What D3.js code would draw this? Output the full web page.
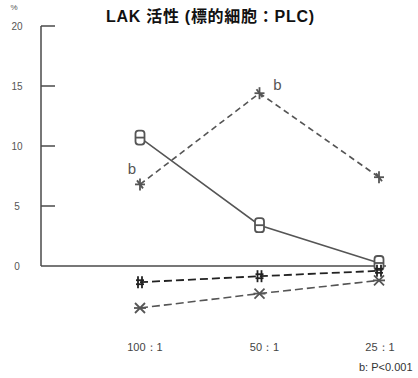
<!DOCTYPE html>
<html><head><meta charset="utf-8">
<script src="https://cdn.jsdelivr.net/npm/d3@7"></script>
<style>body{margin:0;background:#fff}svg{display:block}</style>
</head><body>
<svg id="c" width="418" height="378"></svg>
<script>
const categories = ["100：1", "50：1", "25：1"];
const yTicks = [0, 5, 10, 15, 20];
const seriesSquare = [10.7, 3.4, 0.25];
const seriesStar = [6.8, 14.4, 7.4];
const seriesDark = [-1.35, -0.85, -0.4];
const seriesCross = [-3.5, -2.3, -1.2];
const title = "LAK 活性 (標的細胞：PLC)";

const svg = d3.select("#c");
const x = d3.scalePoint().domain(categories).range([140, 379]);
const y = d3.scaleLinear().domain([0, 20]).range([266, 26]);
const ink = "#4a4a4a";

// axes
svg.append("line").attr("x1", 41).attr("x2", 41).attr("y1", y(20)).attr("y2", y(0)).attr("stroke", ink).attr("stroke-width", 1.5);
svg.append("line").attr("x1", 41).attr("x2", 386).attr("y1", y(0)).attr("y2", y(0)).attr("stroke", ink).attr("stroke-width", 1.5);
svg.selectAll(".yt").data(yTicks.filter(d => d > 0)).join("line")
  .attr("x1", 41).attr("x2", 55).attr("y1", d => y(d)).attr("y2", d => y(d)).attr("stroke", ink).attr("stroke-width", 1.5);
svg.selectAll(".yl").data(yTicks).join("text")
  .attr("x", 17).attr("y", d => y(d) + 3.5).attr("text-anchor", "middle")
  .attr("font-family", "Liberation Sans Narrow, Liberation Sans, sans-serif").attr("font-size", 10).attr("fill", "#555").text(d => d);
svg.append("text").attr("x", 14).attr("y", 10).attr("text-anchor", "middle").attr("font-family", "Liberation Sans, sans-serif").attr("font-size", 8).attr("fill", "#555").text("%");

svg.selectAll(".xl").data(categories).join("text")
  .attr("x", (d, i) => x(d) + [5, 5, 1][i]).attr("y", 351).attr("text-anchor", "middle")
  .attr("font-family", "Liberation Sans Narrow, Liberation Sans, sans-serif").attr("font-size", 11).attr("fill", "#444").text(d => d);

svg.append("text").attr("x", 210).attr("y", 22).attr("text-anchor", "middle")
  .attr("font-family", "Liberation Sans, Noto Sans CJK JP, sans-serif").attr("font-weight", "bold").attr("font-size", 16).attr("fill", "#111")
  .attr("textLength", 208).attr("lengthAdjust", "spacing").text(title);

svg.append("text").attr("x", 359).attr("y", 371).attr("font-family", "Liberation Sans Narrow, Liberation Sans, sans-serif").attr("font-size", 11).attr("fill", "#333").text("b: P<0.001");

const line = d3.line().x((d, i) => x(categories[i])).y(d => y(d));

function drawSeries(vals, color, dash, width, marker) {
  svg.append("path").datum(vals).attr("d", line).attr("fill", "none").attr("stroke", color).attr("stroke-width", width).attr("stroke-dasharray", dash);
  vals.forEach((v, i) => {
    const g = svg.append("g").attr("transform", `translate(${x(categories[i])},${y(v)})`).attr("stroke", color).attr("fill", "none").attr("stroke-width", 1.8);
    marker(g);
  });
}
drawSeries(seriesSquare, "#555", null, 1.5, g => {
  g.append("rect").attr("x", -4.5).attr("y", -7).attr("width", 9).attr("height", 14).attr("rx", 3).attr("fill", "#fff");
  g.append("line").attr("x1", -4.5).attr("x2", 4.5).attr("y1", 0).attr("y2", 0);
});
drawSeries(seriesStar, "#555", "6,4", 1.6, g => {
  g.append("line").attr("x1", -5).attr("x2", 5).attr("y1", 0).attr("y2", 0);
  g.append("line").attr("x1", 0).attr("x2", 0).attr("y1", -6).attr("y2", 6);
  g.append("line").attr("x1", -3).attr("x2", 3).attr("y1", -4).attr("y2", 4);
});
drawSeries(seriesDark, "#222", "8,4", 1.8, g => {
  g.append("line").attr("x1", -2).attr("x2", -2).attr("y1", -6).attr("y2", 6);
  g.append("line").attr("x1", 2).attr("x2", 2).attr("y1", -6).attr("y2", 6);
  g.append("line").attr("x1", -4).attr("x2", 4).attr("y1", -2).attr("y2", -2);
  g.append("line").attr("x1", -4).attr("x2", 4).attr("y1", 2).attr("y2", 2);
});
drawSeries(seriesCross, "#555", "8,4", 1.6, g => {
  g.append("line").attr("x1", -5).attr("x2", 5).attr("y1", -5).attr("y2", 5);
  g.append("line").attr("x1", -5).attr("x2", 5).attr("y1", 5).attr("y2", -5);
  g.append("line").attr("x1", -6).attr("x2", 6).attr("y1", 0).attr("y2", 0);
});

// significance labels
const lab = [{i: 0, v: seriesStar[0], dx: -8, dy: -10}, {i: 1, v: seriesStar[1], dx: 18, dy: -3}];
svg.selectAll(".b").data(lab).join("text")
  .attr("x", d => x(categories[d.i]) + d.dx).attr("y", d => y(d.v) + d.dy).attr("text-anchor", "middle")
  .attr("font-family", "Liberation Sans, sans-serif").attr("font-size", 15).attr("fill", "#555").text("b");
</script>
</body></html>
